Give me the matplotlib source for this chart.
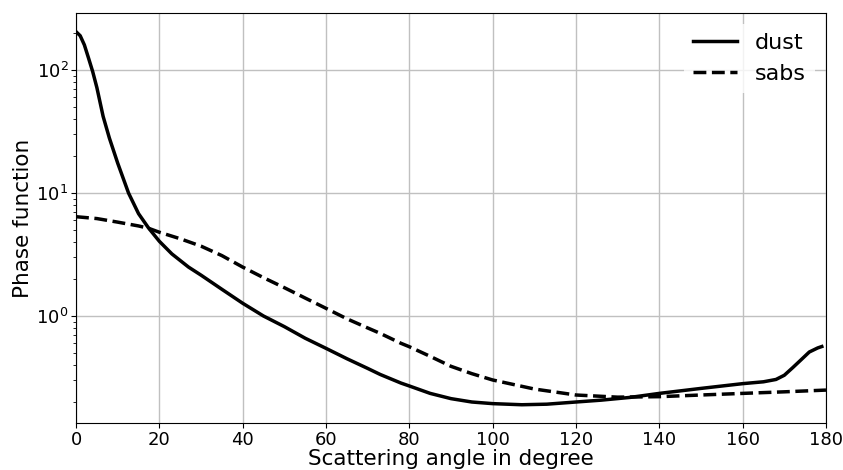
import numpy as np
import matplotlib
matplotlib.use("Agg")
import matplotlib.pyplot as plt

# phase function of the dust model, sampled by scattering angle (deg)
dust_angle = [0, 1, 2, 3, 4, 5, 6.5, 8, 10, 12.6, 15, 17.4, 20, 23, 27, 30, 35,
              40, 45, 50, 55, 60, 65, 70, 73, 78, 80, 85, 90, 95, 100, 107, 113,
              120, 126, 133, 140, 150, 160, 165, 168, 170, 172, 174, 176, 178, 179]
dust_phase = [205, 190, 160, 125, 97, 72, 42, 28, 17.5, 10, 6.8, 5.2, 4.05, 3.2,
              2.5, 2.15, 1.65, 1.27, 1.0, 0.82, 0.66, 0.546, 0.45, 0.375, 0.335,
              0.285, 0.27, 0.235, 0.213, 0.2, 0.194, 0.19, 0.192, 0.2, 0.207,
              0.218, 0.235, 0.258, 0.282, 0.292, 0.305, 0.33, 0.38, 0.44, 0.51,
              0.55, 0.565]

# phase function of the absorber (sabs)
sabs_angle = [0, 5, 10, 15, 17.4, 20, 25, 30, 35, 40, 45, 50, 55, 60, 65, 70, 73,
              78, 80, 85, 90, 95, 100, 110, 120, 130, 140, 150, 160, 170, 180]
sabs_phase = [6.42, 6.2, 5.8, 5.4, 5.17, 4.8, 4.25, 3.7, 3.1, 2.5, 2.05, 1.7, 1.4,
              1.155, 0.95, 0.8, 0.723, 0.6, 0.563, 0.47, 0.39, 0.34, 0.302, 0.255,
              0.228, 0.219, 0.221, 0.228, 0.235, 0.242, 0.25]

fig = plt.figure(figsize=(8.43, 4.70), dpi=100)
ax = fig.add_axes([0.0902, 0.1, 0.8896, 0.872])

ax.plot(dust_angle, dust_phase, "k-", lw=2.5, label="dust")
ax.plot(sabs_angle, sabs_phase, "k--", lw=2.5, label="sabs")

ax.set_yscale("log")
ax.set_xlim(0, 180)
ax.set_ylim(0.135, 290)
ax.set_xticks(np.arange(0, 181, 20))
ax.grid(True, which="major", color="#c0c0c0", lw=1)
ax.tick_params(labelsize=13, pad=2)

ax.set_xlabel("Scattering angle in degree", fontsize=15.5, labelpad=0)
ax.set_ylabel("Phase function", fontsize=15.5, labelpad=2)

leg = ax.legend(loc="upper right", fontsize=16, edgecolor="none")

fig.savefig("out.png", dpi=100)
